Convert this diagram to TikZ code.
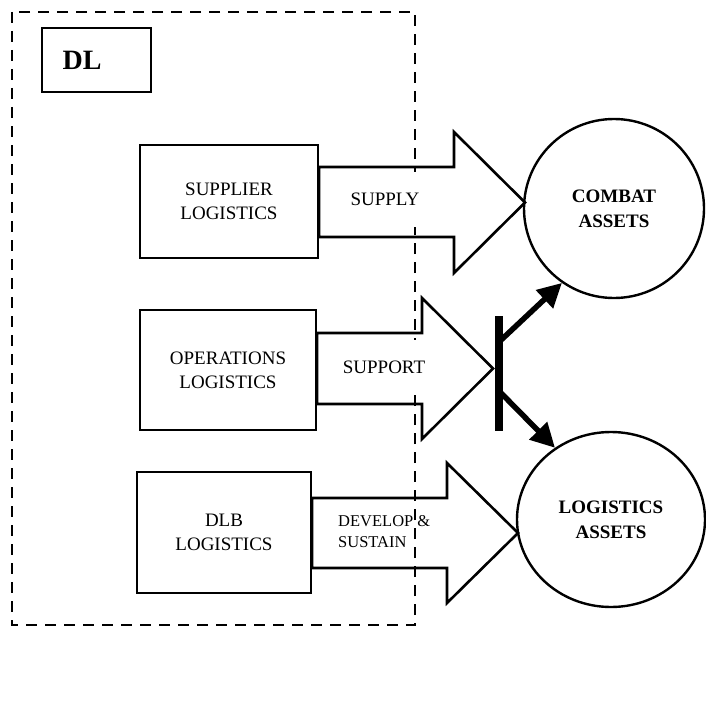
\documentclass[tikz,border=0pt]{standalone}
\usepackage{fontspec}
\setmainfont{Liberation Serif}
\usetikzlibrary{shapes.geometric,arrows.meta,calc}
\begin{document}
\begin{tikzpicture}[x=1pt,y=-1pt,
  box/.style={draw,line width=1.1pt,inner sep=0pt,align=center,
    font=\fontsize{19}{24}\selectfont},
  blockarrow/.style={draw,line width=2.6pt,line join=miter},
  asset/.style={draw,ellipse,line width=2.4pt,inner sep=0pt,align=center,
    font=\fontsize{19}{25}\selectfont\bfseries},
  flowlabel/.style={inner sep=0pt,align=center,font=\fontsize{19}{24}\selectfont},
  boundary/.style={line width=2.3pt,dash pattern=on 11pt off 8pt},
  push/.style={line width=5.5pt,-{Triangle[length=24pt,width=24pt]}}]
\useasboundingbox (0,0) rectangle (706,706);

% DL boundary
\coordinate (bnw) at (12,12);
\coordinate (bse) at (415,625);
\draw[boundary] (bnw) rectangle (bse);

% DL title box
\node[draw,line width=1.1pt,minimum width=109pt,minimum height=64pt,inner sep=0pt]
  (dlbox) at (96.5,60) {};
\node[anchor=west,inner sep=0pt,font=\fontsize{28}{30}\selectfont\bfseries]
  (dltext) at ($(dlbox.west)+(21,0)$) {DL};

% logistics boxes
\node[box,minimum width=178pt,minimum height=113pt] (supplier) at (229,201.5)
  {SUPPLIER\\LOGISTICS};
\node[box,minimum width=176pt,minimum height=120pt] (operations) at (228,370)
  {OPERATIONS\\LOGISTICS};
\node[box,minimum width=174pt,minimum height=121pt] (dlb) at (224,532.5)
  {DLB\\LOGISTICS};

% block arrows
\draw[blockarrow] (319,167) -- (454,167) -- (454,132) -- (525,202.5)
  -- (454,273) -- (454,237) -- (319,237) -- cycle;
\draw[blockarrow] (317,333) -- (422,333) -- (422,298) -- (493,368.5)
  -- (422,439) -- (422,404) -- (317,404) -- cycle;
\draw[blockarrow] (312,498) -- (447,498) -- (447,463) -- (518,533)
  -- (447,603) -- (447,568) -- (312,568) -- cycle;

% arrow labels
\node[flowlabel,fill=white,minimum width=88pt,minimum height=55pt] (supply)
  at (385,199.5) {SUPPLY};
\node[flowlabel,fill=white,minimum width=92pt,minimum height=55pt] (support)
  at (384,367.5) {SUPPORT};
\node[flowlabel,align=left,anchor=west,font=\fontsize{16.5}{21}\selectfont]
  (develop) at (338,532) {DEVELOP \&\\SUSTAIN};

% assets
\node[asset,minimum width=180pt,minimum height=179pt] (combat) at (614,208.5)
  {COMBAT\\ASSETS};
\node[asset,minimum width=188pt,minimum height=175pt] (logassets) at (611,519.5)
  {LOGISTICS\\ASSETS};

% distribution bar and its arrows
\node[fill=black,minimum width=8pt,minimum height=115pt,inner sep=0pt] (bar)
  at (499,373.5) {};
\coordinate (barup) at (500,341);
\coordinate (bardown) at (500,392);
\draw[push] (barup) -- (combat.235);
\draw[push] (bardown) -- (logassets.128);
\end{tikzpicture}
\end{document}
